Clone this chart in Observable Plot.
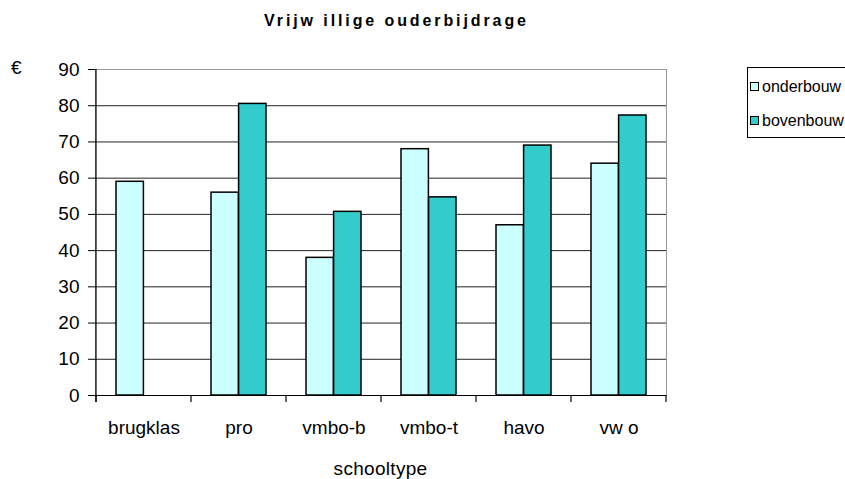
<!DOCTYPE html>
<html>
<head>
<meta charset="utf-8">
<script src="https://cdn.jsdelivr.net/npm/d3@7"></script>
<script src="https://cdn.jsdelivr.net/npm/@observablehq/plot@0.6"></script>
<style>
  html, body { margin: 0; padding: 0; background: white; }
  #wrap { position: relative; width: 845px; height: 479px; font-family: "Liberation Sans", Arial, sans-serif; color: #000; overflow: hidden; }
  #wrap svg { position: absolute; left: 0; top: 0; }
  .abs { position: absolute; white-space: nowrap; }
  #title { left: 0; width: 793px; top: 12px; text-align: center; font-weight: bold; font-size: 16px; letter-spacing: 2.9px; }
  #euro { left: 11px; top: 57px; font-size: 19px; }
  #xlabel { left: 95px; width: 571px; top: 458px; text-align: center; font-size: 19px; letter-spacing: 0.3px; }
  #legend { left: 747px; top: 67px; width: 120px; height: 71px; border: 1px solid #000; box-sizing: border-box; }
  .item { position: absolute; left: 2px; font-size: 16px; line-height: 18px; }
  .sw { display: inline-block; width: 7px; height: 7px; border: 1px solid #000; margin-right: 3px; vertical-align: 1px; }
</style>
</head>
<body>
<div id="wrap">
  <div id="title" class="abs">Vrijw illige ouderbijdrage</div>
  <div id="euro" class="abs">€</div>
  <div id="xlabel" class="abs">schooltype</div>
  <div id="legend" class="abs"></div>
</div>
<script>
const categories = ["brugklas", "pro", "vmbo-b", "vmbo-t", "havo", "vw o"];
const onderbouw = [59, 56, 38, 68, 47, 64];
const bovenbouw = [null, 80.5, 50.7, 54.7, 69, 77.3];
const yTicks = [0, 10, 20, 30, 40, 50, 60, 70, 80, 90];
const seriesNames = ["onderbouw", "bovenbouw"];
const seriesColors = ["#ccffff", "#33cccc"];

const table = categories.map((c, i) => ({cat: c, onder: onderbouw[i], boven: bovenbouw[i]}));

const plot = Plot.plot({
  width: 845,
  height: 479,
  marginLeft: 95,
  marginRight: 179,
  marginTop: 69,
  marginBottom: 84,
  style: {fontFamily: "'Liberation Sans', Arial, sans-serif", fontSize: "19px", color: "#000", background: "transparent", overflow: "visible"},
  x: {domain: categories, padding: 0, tickSize: 0, tickPadding: 25, label: null},
  y: {domain: [0, 90], ticks: yTicks, tickSize: 7, tickPadding: 9, label: null, tickFormat: d => String(d)},
  marks: [
    Plot.frame({stroke: "#999"}),
    Plot.ruleY(yTicks.filter(v => v > 0 && v < 90), {stroke: "#222", strokeWidth: 1}),
    Plot.barY(table, {x: "cat", y: "onder", fill: seriesColors[0], stroke: "#000", strokeWidth: 1.5, insetLeft: 20, insetRight: 47.6}),
    Plot.barY(table, {x: "cat", y: "boven", fill: seriesColors[1], stroke: "#000", strokeWidth: 1.5, insetLeft: 47.6, insetRight: 20}),
    Plot.ruleY([0], {stroke: "#000", strokeWidth: 1.2})
  ]
});

// boundary ticks and the left axis line, placed with the plot's own scales
const xs = plot.scale("x");
const ys = plot.scale("y");
const y0 = ys.apply(0), yTop = ys.apply(90);
const svg = d3.select(plot);
const edges = categories.map(c => xs.apply(c));
edges.push(xs.apply(categories[categories.length - 1]) + xs.bandwidth);
const g = svg.append("g").attr("stroke", "#000").attr("stroke-width", 1.2);
edges.forEach(x => {
  g.append("line").attr("x1", x).attr("x2", x).attr("y1", y0).attr("y2", y0 + 7);
});
g.append("line").attr("x1", edges[0]).attr("x2", edges[0]).attr("y1", yTop).attr("y2", y0 + 7);

document.getElementById("wrap").prepend(plot);

// legend
const lg = document.getElementById("legend");
seriesNames.forEach((name, i) => {
  const it = document.createElement("div");
  it.className = "item";
  it.style.top = (10 + i * 34) + "px";
  const sw = document.createElement("span");
  sw.className = "sw";
  sw.style.background = seriesColors[i];
  it.appendChild(sw);
  it.appendChild(document.createTextNode(name));
  lg.appendChild(it);
});
</script>
</body>
</html>
